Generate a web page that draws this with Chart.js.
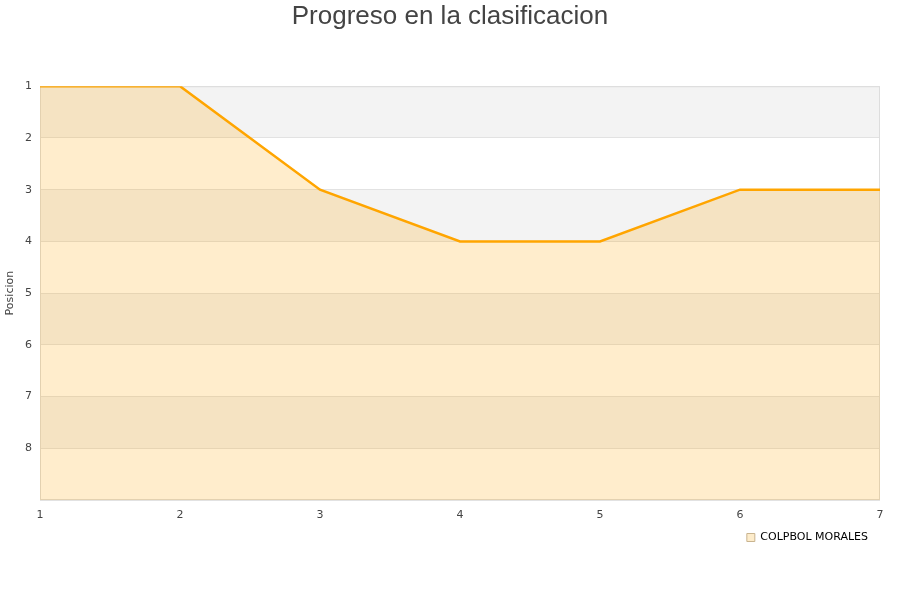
<!DOCTYPE html>
<html>
<head>
<meta charset="utf-8">
<script src="https://cdn.jsdelivr.net/npm/chart.js@4/dist/chart.umd.min.js"></script>
<style>
  html, body { margin: 0; padding: 0; background: #fff; }
  #wrap { width: 900px; height: 600px; }
</style>
</head>
<body>
<div id="wrap"><canvas id="c" width="900" height="600"></canvas></div>
<script>
const jornadas = ['1', '2', '3', '4', '5', '6', '7'];
const posiciones = [1, 1, 3, 4, 4, 3, 3];
const teamName = 'COLPBOL MORALES';
const chartTitle = 'Progreso en la clasificacion';
const yTitle = 'Posicion';
const yMin = 1, yMax = 9;

const bandPlugin = {
  id: 'bands',
  beforeDraw(chart) {
    const { ctx, chartArea: a, scales: { y } } = chart;
    ctx.save();
    for (let v = yMin; v < yMax; v++) {
      const p1 = y.getPixelForValue(v), p2 = y.getPixelForValue(v + 1);
      ctx.fillStyle = ((v - yMin) % 2 === 0) ? '#f3f3f3' : '#ffffff';
      ctx.fillRect(a.left, Math.min(p1, p2), a.right - a.left, Math.abs(p2 - p1));
    }
    ctx.restore();
  },
  beforeDatasetsDraw(chart) {
    const { ctx, chartArea: a } = chart;
    ctx.save();
    ctx.strokeStyle = '#dddddd';
    ctx.lineWidth = 1;
    ctx.strokeRect(a.left + 0.5, a.top + 0.5, a.right - a.left - 1, a.bottom - a.top - 1);
    ctx.restore();
  }
};

new Chart(document.getElementById('c'), {
  type: 'line',
  data: {
    labels: jornadas,
    datasets: [{
      label: teamName,
      data: posiciones,
      borderColor: '#ffa500',
      borderWidth: 2.5,
      backgroundColor: 'rgba(255,165,0,0.2)',
      fill: { value: yMax },
      pointRadius: 0,
      pointHoverRadius: 0,
      tension: 0
    }]
  },
  options: {
    responsive: false,
    animation: false,
    layout: { padding: { left: 0, right: 0, top: 0, bottom: 47 } },
    plugins: {
      title: {
        display: true,
        text: chartTitle,
        color: '#444444',
        font: { family: '"Liberation Sans", Arial, sans-serif', size: 26, weight: 'normal' },
        padding: { top: 1, bottom: 54 }
      },
      legend: {
        position: 'bottom',
        align: 'end',
        fullSize: false,
        labels: {
          color: '#000000',
          font: { family: '"DejaVu Sans", sans-serif', size: 11 },
          boxWidth: 8,
          boxHeight: 8,
          padding: 12,
          generateLabels(chart) {
            return [{
              text: teamName,
              fillStyle: '#fdeccb',
              strokeStyle: '#c9b48f',
              lineWidth: 1,
              datasetIndex: 0,
              fontColor: '#000000'
            }];
          }
        }
      },
      tooltip: { enabled: false }
    },
    scales: {
      x: {
        type: 'category',
        offset: false,
        grid: { display: false },
        border: { display: false },
        ticks: {
          color: '#444444',
          font: { family: '"DejaVu Sans", sans-serif', size: 11 },
          maxRotation: 0,
          padding: 1
        },
        afterFit(s) { s.height = 20; }
      },
      y: {
        reverse: true,
        min: yMin,
        max: yMax,
        grid: { color: '#e2e2e2', drawTicks: false },
        border: { display: false },
        ticks: {
          stepSize: 1,
          color: '#444444',
          font: { family: '"DejaVu Sans", sans-serif', size: 11 },
          padding: 8,
          callback: (v) => (v >= yMax ? '' : String(v))
        },
        title: {
          display: true,
          text: yTitle,
          color: '#444444',
          font: { family: '"DejaVu Sans", sans-serif', size: 11 },
          padding: { top: 4, bottom: 0 }
        },
        afterFit(s) { s.width = 40; }
      },
      yRight: {
        type: 'linear',
        position: 'right',
        display: true,
        min: 0,
        max: 1,
        grid: { display: false },
        border: { display: false },
        ticks: { display: false },
        afterFit(s) { s.width = 20; }
      }
    }
  },
  plugins: [bandPlugin]
});
</script>
</body>
</html>
